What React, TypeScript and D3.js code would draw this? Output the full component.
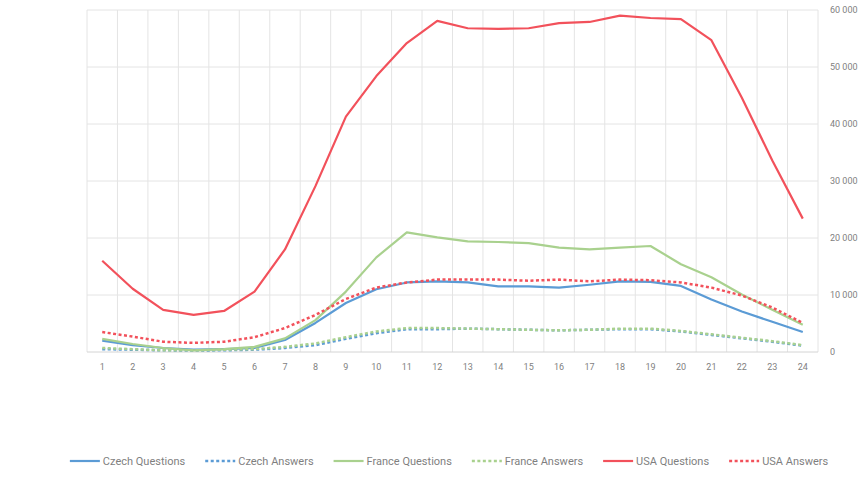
import React, { useEffect, useRef } from 'react';
import * as d3 from 'd3';

const hours = d3.range(1, 25).map(String);

const czechQuestions = [2000, 1200, 700, 400, 500, 700, 2100, 5100, 8600, 11000, 12200, 12400, 12200, 11500, 11500, 11300, 11800, 12400, 12300, 11600, 9200, 7100, 5300, 3500];
const czechAnswers = [500, 400, 300, 250, 300, 400, 700, 1200, 2300, 3300, 4000, 4000, 4100, 4000, 3900, 3800, 3900, 4000, 4000, 3600, 3000, 2400, 1800, 1100];
const franceQuestions = [2300, 1400, 700, 300, 500, 900, 2400, 5600, 10600, 16600, 21000, 20100, 19400, 19300, 19100, 18300, 18000, 18300, 18600, 15400, 13100, 10100, 7400, 4800];
const franceAnswers = [700, 500, 300, 300, 400, 500, 900, 1500, 2600, 3600, 4200, 4200, 4100, 4000, 3900, 3800, 3900, 4100, 4100, 3700, 3100, 2500, 1900, 1200];
const usaQuestions = [16000, 11100, 7400, 6500, 7200, 10600, 18000, 29100, 41300, 48400, 54200, 58100, 56800, 56700, 56800, 57700, 57900, 59000, 58600, 58400, 54700, 44600, 33600, 23400];
const usaAnswers = [3500, 2700, 1800, 1600, 1800, 2600, 4200, 6500, 9300, 11300, 12200, 12700, 12700, 12700, 12500, 12700, 12400, 12700, 12600, 12200, 11300, 9900, 7800, 5100];

const yTicks = [0, 10000, 20000, 30000, 40000, 50000, 60000];

const seriesNames = ['Czech Questions', 'Czech Answers', 'France Questions', 'France Answers', 'USA Questions', 'USA Answers'];
const seriesValues = [czechQuestions, czechAnswers, franceQuestions, franceAnswers, usaQuestions, usaAnswers];
const seriesColors = ['#5b9bd5', '#5b9bd5', '#a9d18e', '#a9d18e', '#f2515b', '#f2515b'];
const seriesDashed = [false, true, false, true, false, true];

const W = 867;
const H = 477;

const App: React.FC = () => {
  const svgRef = useRef<SVGSVGElement>(null);

  useEffect(() => {
    if (!svgRef.current) return;
    const svg = d3.select(svgRef.current);
    svg.selectAll('*').remove();

    const left = 87, right = 818, top = 10, bottom = 352;
    const font = 'Roboto, "Noto Sans", sans-serif';

    const x = d3.scaleBand<string>().domain(hours).range([left, right]);
    const y = d3.scaleLinear().domain([0, 60000]).range([bottom, top]);
    const fmt = d3.formatLocale({ decimal: '.', thousands: ' ', grouping: [3], currency: ['', ''] }).format(',');

    svg.append('rect').attr('width', W).attr('height', H).attr('fill', '#ffffff');

    // grid
    const grid = svg.append('g');
    grid.selectAll('line.h')
      .data(yTicks.slice(1))
      .join('line')
      .attr('x1', left).attr('x2', right)
      .attr('y1', d => y(d)).attr('y2', d => y(d))
      .attr('stroke', '#e4e4e4').attr('stroke-width', 1);
    grid.selectAll('line.v')
      .data(hours.concat(['end']))
      .join('line')
      .attr('x1', (d, i) => left + i * x.bandwidth())
      .attr('x2', (d, i) => left + i * x.bandwidth())
      .attr('y1', top).attr('y2', bottom)
      .attr('stroke', '#e4e4e4').attr('stroke-width', 1);

    svg.append('line')
      .attr('x1', left).attr('x2', right)
      .attr('y1', bottom).attr('y2', bottom)
      .attr('stroke', '#d4d4d4').attr('stroke-width', 1);

    // y labels on the right
    svg.append('g').selectAll('text')
      .data(yTicks)
      .join('text')
      .attr('x', 830)
      .attr('y', d => y(d) + 3)
      .attr('font-family', font)
      .attr('font-size', 9)
      .attr('fill', '#7f7f7f')
      .text(d => fmt(d));

    // x labels
    svg.append('g').selectAll('text')
      .data(hours)
      .join('text')
      .attr('x', d => (x(d) as number) + x.bandwidth() / 2)
      .attr('y', 370)
      .attr('text-anchor', 'middle')
      .attr('font-family', font)
      .attr('font-size', 9)
      .attr('fill', '#7f7f7f')
      .text(d => d);

    // lines
    const line = d3.line<number>()
      .x((d, i) => (x(hours[i]) as number) + x.bandwidth() / 2)
      .y(d => y(d));

    seriesValues.forEach((vals, i) => {
      svg.append('path')
        .datum(vals)
        .attr('fill', 'none')
        .attr('stroke', seriesColors[i])
        .attr('stroke-width', seriesDashed[i] ? 2.5 : 2.2)
        .attr('stroke-dasharray', seriesDashed[i] ? '3,2.5' : null)
        .attr('stroke-linejoin', 'round')
        .attr('d', line);
    });

    // legend
    const legend = svg.append('g');
    const items = seriesNames.map((name, i) => {
      const g = legend.append('g');
      g.append('line')
        .attr('x1', 0).attr('x2', 30)
        .attr('y1', 0).attr('y2', 0)
        .attr('stroke', seriesColors[i])
        .attr('stroke-width', seriesDashed[i] ? 2.5 : 2.2)
        .attr('stroke-dasharray', seriesDashed[i] ? '3,2.5' : null);
      const t = g.append('text')
        .attr('x', 33)
        .attr('y', 4)
        .attr('font-family', font)
        .attr('font-size', 11)
        .attr('fill', '#7f7f7f')
        .text(name);
      const w = (t.node() as SVGTextElement).getComputedTextLength();
      return { g, w: 33 + w };
    });
    const gap = 20;
    const total = d3.sum(items, d => d.w) + gap * (items.length - 1);
    let cx = 449 - total / 2;
    items.forEach(it => {
      it.g.attr('transform', `translate(${cx},461)`);
      cx += it.w + gap;
    });
  }, []);

  return (
    <svg
      ref={svgRef}
      width={W}
      height={H}
      viewBox={`0 0 ${W} ${H}`}
      style={{ position: 'absolute', left: 0, top: 0, display: 'block' }}
    />
  );
};

export default App;
